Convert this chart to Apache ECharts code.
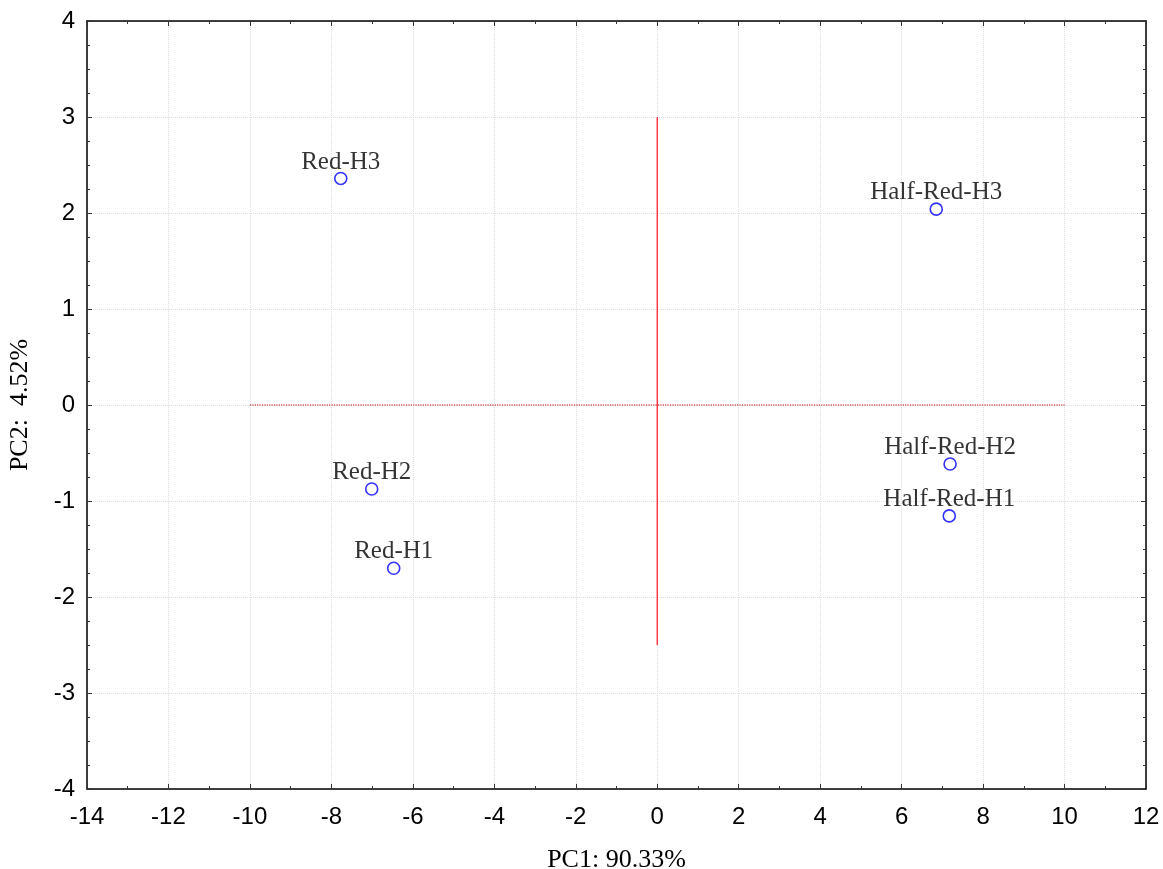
<!DOCTYPE html>
<html><head><meta charset="utf-8">
<script src="https://cdn.jsdelivr.net/npm/echarts@6/dist/echarts.min.js"></script>
<style>html,body{margin:0;padding:0;background:#fff;overflow:hidden}#c{width:1163px;height:869px}</style>
</head><body><div id="c"></div>
<script>
const sampleNames = ["Red-H3","Half-Red-H3","Red-H2","Red-H1","Half-Red-H2","Half-Red-H1"];
const pc1 = [-7.77, 6.85, -7.01, -6.47, 7.19, 7.17];
const pc2 = [2.36, 2.04, -0.875, -1.70, -0.615, -1.155];
const hLine = [[-10,0],[10,0]];
const vLine = [[0,3],[0,-2.5]];
const xName = "PC1: 90.33%";
const yName = "PC2:  4.52%";

const chart = echarts.init(document.getElementById('c'));
const axisLine = {show:true, onZero:false, lineStyle:{color:'#000', width:1.5}};
const tickIn = {show:true, inside:true, length:5, lineStyle:{color:'#333'}};
const minorIn = {show:true, length:3, lineStyle:{color:'#333'}};
const grid = {show:true, lineStyle:{color:'#ddd', type:'dotted', width:1}};
const lblStyle = {color:'#000', fontFamily:'Liberation Sans, Arial', fontSize:24};
const serif = 'Liberation Serif, Times New Roman';
chart.setOption({
  animation:false,
  grid:{left:87, top:21, right:17, bottom:80, containLabel:false, outerBoundsMode:'none'},
  xAxis:[{type:'value', min:-14, max:12, interval:2, position:'bottom',
    name:xName, nameLocation:'middle', nameGap:58,
    nameTextStyle:{fontFamily:serif, fontSize:26, color:'#000'},
    axisLine, axisTick:tickIn, minorTick:Object.assign({}, minorIn, {splitNumber:2}),
    axisLabel:Object.assign({margin:16}, lblStyle), splitLine:grid},
   {type:'value', min:-14, max:12, interval:2, position:'top',
    axisLine, axisTick:tickIn, minorTick:Object.assign({}, minorIn, {splitNumber:2}),
    axisLabel:{show:false}, splitLine:{show:false}}],
  yAxis:[{type:'value', min:-4, max:4, interval:1, position:'left',
    name:yName, nameLocation:'middle', nameGap:54,
    nameTextStyle:{fontFamily:serif, fontSize:26, color:'#000'},
    axisLine, axisTick:tickIn, minorTick:Object.assign({}, minorIn, {splitNumber:4}),
    axisLabel:Object.assign({margin:12}, lblStyle), splitLine:grid},
   {type:'value', min:-4, max:4, interval:1, position:'right',
    axisLine, axisTick:tickIn, minorTick:Object.assign({}, minorIn, {splitNumber:4}),
    axisLabel:{show:false}, splitLine:{show:false}}],
  series:[
    {type:'line', data:hLine, symbol:'none', silent:true,
      lineStyle:{color:'#c00010', width:1.2, type:'dotted'}},
    {type:'line', data:vLine, symbol:'none', silent:true,
      lineStyle:{color:'#ff1020', width:1.2}},
    {type:'scatter', data:pc1.map((x,i)=>({value:[x,pc2[i]], name:sampleNames[i]})),
      symbol:'circle', symbolSize:12,
      itemStyle:{color:'#fff', borderColor:'#0000ff', borderWidth:1.6},
      label:{show:true, position:'top', distance:-3, formatter:p=>p.name,
        fontFamily:serif, fontSize:25, color:'#000'}}
  ]
});
</script></body></html>
